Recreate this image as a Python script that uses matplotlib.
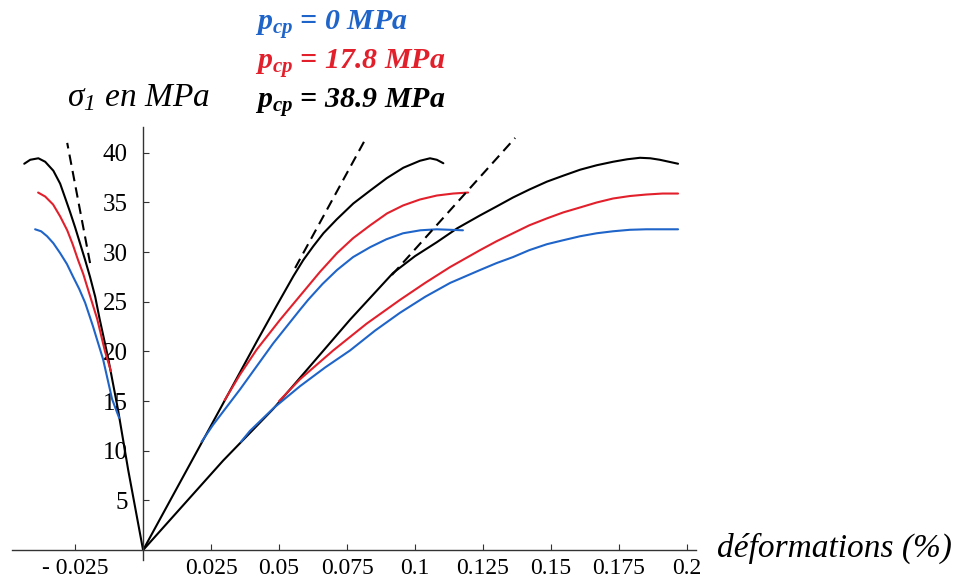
import matplotlib
matplotlib.use("Agg")
import matplotlib.pyplot as plt

plt.rcParams['font.family'] = 'Liberation Serif'
plt.rcParams['mathtext.fontset'] = 'custom'
plt.rcParams['mathtext.rm'] = 'Liberation Serif:italic'
plt.rcParams['mathtext.it'] = 'Liberation Serif:italic:bold'

BLUE = '#1f64c8'
RED = '#e2202c'

# --- data (strain %, sigma_1 MPa) ---
# lateral strain branch (negative side)
lat_black_x = [0, -0.0055, -0.0092, -0.0129, -0.0160, -0.0176, -0.0195, -0.0213, -0.0232, -0.0250,
               -0.0268, -0.0287, -0.0305, -0.0330, -0.0360, -0.0385, -0.0415, -0.0437]
lat_black_y = [0, 8.1, 14.1, 19.4, 23.3, 25.5, 27.5, 29.2, 30.9, 32.5,
               34.0, 35.5, 36.9, 38.2, 39.1, 39.45, 39.3, 38.9]
lat_red_x = [-0.0118, -0.0140, -0.0169, -0.0202, -0.0220, -0.0239, -0.0259, -0.0279, -0.0305, -0.0331, -0.0360, -0.0386]
lat_red_y = [18.0, 20.0, 23.3, 26.2, 27.8, 29.2, 30.8, 32.2, 33.6, 34.8, 35.6, 36.0]
lat_blue_x = [-0.0088, -0.0114, -0.0147, -0.0185, -0.0213, -0.0235, -0.0257, -0.0280, -0.0305, -0.0330, -0.0353, -0.0375, -0.0397]
lat_blue_y = [13.3, 15.2, 19.2, 22.6, 24.9, 26.3, 27.5, 28.8, 29.9, 30.9, 31.6, 32.1, 32.3]

# first axial branch (steep)
a_black_x = [0, 0.0283, 0.0418, 0.0491, 0.0553, 0.0589, 0.0626, 0.0663, 0.0712, 0.0773,
             0.0835, 0.0896, 0.0957, 0.1018, 0.1055, 0.1080, 0.1104]
a_black_y = [0, 14.2, 21.0, 24.6, 27.6, 29.2, 30.6, 31.9, 33.3, 34.9,
             36.2, 37.45, 38.5, 39.2, 39.45, 39.3, 38.95]
a_red_x = [0.0300, 0.0357, 0.0418, 0.0504, 0.0577, 0.0650, 0.0713, 0.0772, 0.0835, 0.0897, 0.0956, 0.1018, 0.1080, 0.1140, 0.1195]
a_red_y = [15.1, 17.7, 20.2, 23.2, 25.6, 28.0, 29.9, 31.4, 32.7, 33.9, 34.7, 35.3, 35.7, 35.9, 36.0]
a_blue_x = [0.0215, 0.0257, 0.0357, 0.0478, 0.0577, 0.0607, 0.0660, 0.0713, 0.0772, 0.0835, 0.0895, 0.0956, 0.1020, 0.1080, 0.1176]
a_blue_y = [10.9, 12.6, 16.2, 20.8, 24.2, 25.2, 26.8, 28.2, 29.5, 30.5, 31.3, 31.9, 32.2, 32.3, 32.2]

# second axial branch
b_black_x = [0, 0.0294, 0.0478, 0.0607, 0.0761, 0.0919, 0.1000, 0.1080, 0.1155, 0.1239, 0.1300,
             0.1360, 0.1420, 0.1485, 0.1545, 0.1607, 0.1668, 0.1728, 0.1780, 0.1827, 0.1865, 0.1900, 0.1967]
b_black_y = [0, 9.0, 14.2, 18.3, 23.2, 27.9, 29.6, 31.0, 32.4, 33.7, 34.6,
             35.5, 36.3, 37.1, 37.7, 38.3, 38.75, 39.1, 39.35, 39.5, 39.45, 39.3, 38.9]
b_red_x = [0.0500, 0.0577, 0.0699, 0.0822, 0.0945, 0.1037, 0.1129, 0.1239, 0.1300, 0.1360, 0.1420,
           0.1485, 0.1545, 0.1607, 0.1668, 0.1728, 0.1790, 0.1850, 0.1910, 0.1967]
b_red_y = [15.0, 17.2, 20.1, 22.8, 25.2, 26.9, 28.5, 30.2, 31.1, 31.9, 32.7,
           33.4, 34.0, 34.5, 35.0, 35.4, 35.65, 35.8, 35.9, 35.9]
b_blue_x = [0.0360, 0.0393, 0.0480, 0.0577, 0.0670, 0.0761, 0.0853, 0.0945, 0.1037, 0.1129, 0.1239,
            0.1300, 0.1360, 0.1420, 0.1485, 0.1545, 0.1607, 0.1668, 0.1728, 0.1790, 0.1850, 0.1967]
b_blue_y = [10.9, 12.0, 14.3, 16.5, 18.4, 20.1, 22.1, 23.9, 25.5, 26.9, 28.2,
            28.9, 29.5, 30.2, 30.8, 31.2, 31.6, 31.9, 32.1, 32.25, 32.3, 32.3]

# elastic tangents (dashed)
lat_tan_x = [-0.0195, -0.0279]
lat_tan_y = [28.9, 41.0]
a_tan_x = [0.0559, 0.0816]
a_tan_y = [28.4, 41.3]
b_tan_x = [0.0915, 0.1368]
b_tan_y = [27.7, 41.5]

xticks = [-0.025, 0.025, 0.05, 0.075, 0.1, 0.125, 0.15, 0.175, 0.2]
xlabels = ['- 0.025', '0.025', '0.05', '0.075', '0.1', '0.125', '0.15', '0.175', '0.2']
yticks = [5, 10, 15, 20, 25, 30, 35, 40]

legend_labels = [r'$p_{cp}$ = 0 MPa', r'$p_{cp}$ = 17.8 MPa', r'$p_{cp}$ = 38.9 MPa']

W, H = 957, 582
fig = plt.figure(figsize=(W / 100, H / 100), dpi=100)
ax = fig.add_axes([12 / W, 22 / H, 684 / W, 433 / H])

lw = 1.5
style = dict(lw=lw, solid_joinstyle='round', solid_capstyle='round')
for xs, ys in [(lat_black_x, lat_black_y), (a_black_x, a_black_y), (b_black_x, b_black_y)]:
    ax.plot(xs, ys, color='black', **style)
for xs, ys in [(lat_red_x, lat_red_y), (a_red_x, a_red_y), (b_red_x, b_red_y)]:
    ax.plot(xs, ys, color=RED, **style)
for xs, ys in [(lat_blue_x, lat_blue_y), (a_blue_x, a_blue_y), (b_blue_x, b_blue_y)]:
    ax.plot(xs, ys, color=BLUE, **style)
for xs, ys in [(lat_tan_x, lat_tan_y), (a_tan_x, a_tan_y), (b_tan_x, b_tan_y)]:
    ax.plot(xs, ys, color='black', lw=lw, ls=(0, (5, 3)))

ax.set_xlim(-0.0482, 0.2033)
ax.set_ylim(-1.0, 42.6)
for s in ['top', 'right']:
    ax.spines[s].set_visible(False)
ax.spines['left'].set_position(('data', 0))
ax.spines['bottom'].set_position(('data', 0))
for s in ['left', 'bottom']:
    ax.spines[s].set_color('#333333')
    ax.spines[s].set_linewidth(1.0)

ax.set_xticks(xticks)
ax.set_xticklabels(xlabels)
ax.set_yticks(yticks)
ax.tick_params(axis='both', direction='in', length=4, width=0.8, colors='#333333',
               labelcolor='black', labelsize=18)
ax.tick_params(axis='x', pad=6, labelsize=17)
ax.tick_params(axis='y', pad=11)

# titles / legend text
fig.text(67 / W, 1 - 106 / H, r'$\mathrm{\sigma_{1}}$ en MPa', fontsize=24,
         style='italic', ha='left', va='baseline')
for i, (lab, col) in enumerate(zip(legend_labels, [BLUE, RED, 'black'])):
    fig.text(255 / W, 1 - (30 + 39 * i) / H, lab, fontsize=21.5, color=col,
             weight='bold', style='italic', ha='left', va='baseline')
fig.text(717 / W, 1 - 557 / H, 'déformations (%)', fontsize=24,
         style='italic', ha='left', va='baseline')

fig.savefig('out.png', dpi=100)
